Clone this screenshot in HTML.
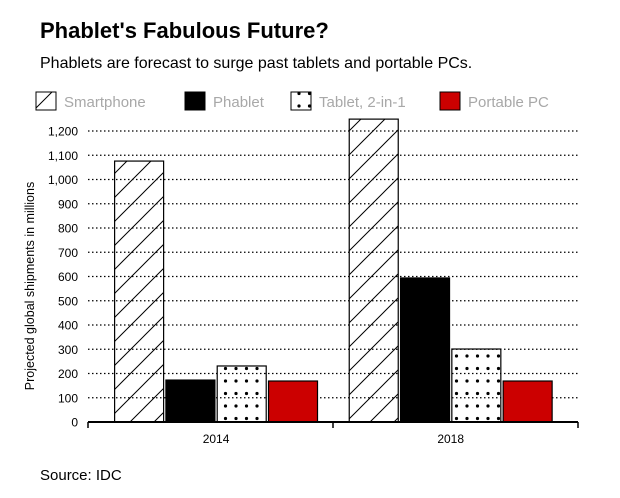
<!DOCTYPE html>
<html><head><meta charset="utf-8"><style>
body{margin:0;background:#fff;font-family:"Liberation Sans",sans-serif;}
#wrap{position:relative;width:620px;height:498px;overflow:hidden;}
</style></head><body>
<div id="wrap">
<svg width="620" height="498" id="svg">
<defs>
<pattern id="hatch" patternUnits="userSpaceOnUse" width="24" height="24"><path d="M-6,30 L30,-6 M-6,6 L6,-6 M18,30 L30,18" stroke="#000" stroke-width="1"/></pattern>
<pattern id="dots" patternUnits="userSpaceOnUse" width="10.5" height="12.5"><circle cx="5" cy="6" r="1.6" fill="#000"/></pattern>
</defs>
<text x="40" y="38" font-size="22" font-weight="bold">Phablet's Fabulous Future?</text>
<text x="40" y="68" font-size="16">Phablets are forecast to surge past tablets and portable PCs.</text>
<g id="legend"></g>
<g id="grid"></g>
<g id="bars"></g>
<g id="axes"></g>
<text transform="translate(34,286) rotate(-90)" text-anchor="middle" font-size="12.5">Projected global shipments in millions</text>
<text x="40" y="480" font-size="15">Source: IDC</text>
</svg></div>
<script>
const categories=["2014","2018"];
const seriesNames=["Smartphone","Phablet","Tablet, 2-in-1","Portable PC"];
const smartphone=[1076,1249];
const phablet=[173,594];
const tablet=[231,301];
const portablePC=[169,169];
const yTicks=[0,100,200,300,400,500,600,700,800,900,1000,1100,1200];
const series=[smartphone,phablet,tablet,portablePC];
const fills=["url(#hatch)","#000","url(#dots)","#cc0000"];
const NS="http://www.w3.org/2000/svg";
const X0=88,X1=578,Y0=422,Ymax=1200,Ytop=131;
const y=v=>Y0-(v/Ymax)*(Y0-Ytop);
const bandStart=98.75,bandEnd=568;
const groupW=(bandEnd-bandStart)/categories.length;
function mk(t,a,p){const e=document.createElementNS(NS,t);for(const k in a)e.setAttribute(k,a[k]);p.appendChild(e);return e;}
const grid=document.getElementById('grid'),axes=document.getElementById('axes'),bars=document.getElementById('bars'),legend=document.getElementById('legend');
yTicks.forEach(v=>{
 if(v>0){const l=mk('line',{x1:X0,x2:X1,y1:y(v),y2:y(v),stroke:'#000','stroke-width':1.3,'stroke-dasharray':'1.5,2.5'},grid);
 
 }
 const t=mk('text',{x:78,y:y(v)+4.5,'text-anchor':'end','font-size':12},axes);t.textContent=v.toLocaleString('en-US');
 
 
});
const bw=49,gap=2.3,totalW=series.length*bw+(series.length-1)*gap;
categories.forEach((c,i)=>{
 const cx=bandStart+groupW*(i+0.5);
 series.forEach((s,j)=>{
  const bx=cx-totalW/2+j*(bw+gap);
  const r=mk('rect',{x:bx,y:y(s[i]),width:bw,height:Y0-y(s[i]),fill:fills[j],stroke:'#000','stroke-width':1.2},bars);
  
  
 });
 const t=mk('text',{x:cx,y:Y0+21,'text-anchor':'middle','font-size':12},axes);t.textContent=c;
 
 
});
const ax=mk('line',{x1:X0,x2:X1,y1:Y0,y2:Y0,stroke:'#000','stroke-width':2},axes);


[X0,(X0+X1)/2,X1].forEach(tx=>{const tk=mk('line',{x1:tx,x2:tx,y1:Y0,y2:Y0+6,stroke:'#000','stroke-width':1.5},axes);
 
 });
const lx=[36,185,291,440];
seriesNames.forEach((n,j)=>{
 const r=mk('rect',{x:lx[j],y:92,width:20,height:18,fill:fills[j],stroke:'#000','stroke-width':1},legend);
 
 
 const t=mk('text',{x:lx[j]+28,y:107,'font-size':15,fill:'#a8a8a8'},legend);t.textContent=n;
 
 
});
</script>
</body></html>
